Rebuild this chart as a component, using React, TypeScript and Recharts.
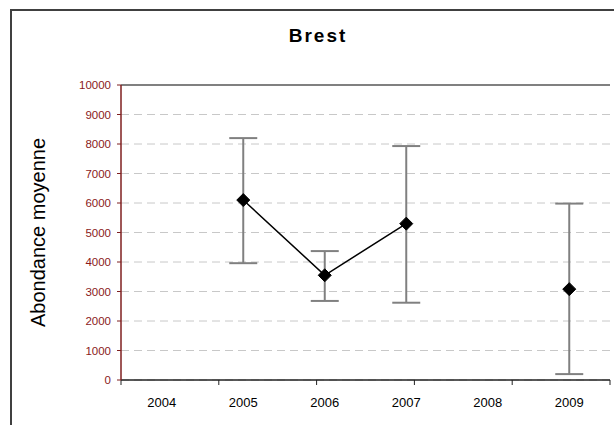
import React from 'react';
import { ComposedChart, Line, ErrorBar, XAxis, YAxis, CartesianGrid, ReferenceLine } from 'recharts';

// values (Brest, mean abundance with min/max bars)
const years = ['2004', '2005', '2006', '2007', '2008', '2009'];
const means: (number | null)[] = [null, 6100, 3550, 5300, null, 3080];
const lowerBounds: (number | null)[] = [null, 3960, 2680, 2620, null, 200];
const upperBounds: (number | null)[] = [null, 8200, 4370, 7930, null, 5980];
const yTicks = [0, 1000, 2000, 3000, 4000, 5000, 6000, 7000, 8000, 9000, 10000];
const edgeTicks = [0, 1, 2, 3, 4, 5, 6];

const chartData = years.map((year, i) => {
  const m = means[i];
  const lo = lowerBounds[i];
  const hi = upperBounds[i];
  return {
    year,
    mean: m,
    err: m != null && lo != null && hi != null ? [m - lo, hi - m] : null,
  };
});

const Diamond = (props: any) => {
  const { cx, cy, index } = props;
  if (cx == null || cy == null || isNaN(cy)) return <g key={`d-${index}`} />;
  const r = 6.5;
  return (
    <polygon
      key={`d-${index}`}
      points={`${cx},${cy - r} ${cx + r},${cy} ${cx},${cy + r} ${cx - r},${cy}`}
      fill="#000"
      stroke="#000"
    />
  );
};

const YLabel = (props: any) => {
  const { viewBox } = props;
  const x = viewBox.x - 23;
  const y = viewBox.y + viewBox.height / 2;
  return (
    <text
      x={x}
      y={y}
      transform={`rotate(-90, ${x}, ${y})`}
      textAnchor="middle"
      dominantBaseline="central"
      fontSize={20}
      fill="#000"
      fontFamily="'Liberation Sans', Arial, sans-serif"
    >
      Abondance moyenne
    </text>
  );
};

const App: React.FC = () => {
  return (
    <div style={{ position: 'absolute', left: 0, top: 0, width: 614, height: 425, overflow: 'hidden', background: '#fff' }}>
      <div style={{ position: 'absolute', left: 10, top: 9, width: 700, height: 500, border: '2px solid #404040' }} />
      <div
        style={{
          position: 'absolute',
          left: 0,
          width: 636,
          top: 25,
          textAlign: 'center',
          fontFamily: "'Liberation Sans', Arial, sans-serif",
          fontWeight: 'bold',
          fontSize: 19,
          letterSpacing: 2,
          color: '#000',
        }}
      >
        Brest
      </div>
      <div style={{ position: 'absolute', left: 0, top: 0 }}>
        <ComposedChart width={614} height={425} data={chartData} margin={{ top: 85, right: 4, left: 61, bottom: 14 }}>
          <CartesianGrid xAxisId="b" vertical={false} stroke="#c8c8c8" strokeDasharray="8 5" />
          <XAxis
            xAxisId="a"
            type="number"
            domain={[0, 6]}
            ticks={edgeTicks}
            height={1}
            interval={0}
            tickFormatter={() => ''}
            axisLine={{ stroke: '#222', strokeWidth: 1.5 }}
            tickLine={{ stroke: '#222', strokeWidth: 1 }}
            tickSize={5}
          />
          <XAxis
            xAxisId="b"
            dataKey="year"
            scale="band"
            height={30}
            axisLine={false}
            tickLine={false}
            tickMargin={11}
            tick={{ fill: '#000', fontSize: 13, fontFamily: "'Liberation Sans', Arial, sans-serif" }}
          />
          <YAxis
            domain={[0, 10000]}
            ticks={yTicks}
            width={60}
            interval={0}
            axisLine={{ stroke: '#7f1f1f', strokeWidth: 1.5 }}
            tickLine={{ stroke: '#7f1f1f' }}
            tickSize={4}
            tickMargin={6}
            tick={{ fill: '#8b1a1a', fontSize: 11.5, fontFamily: "'Liberation Sans', Arial, sans-serif" }}
            label={<YLabel />}
          />
          <YAxis
            yAxisId="right"
            orientation="right"
            domain={[0, 10000]}
            width={0}
            tick={false}
            tickLine={false}
            axisLine={{ stroke: '#808080', strokeWidth: 2 }}
          />
          <ReferenceLine xAxisId="b" y={10000} stroke="#808080" strokeWidth={2} />
          <Line
            xAxisId="b"
            dataKey="mean"
            stroke="#000"
            strokeWidth={1.5}
            connectNulls={false}
            dot={<Diamond />}
            activeDot={false}
            isAnimationActive={false}
          >
            <ErrorBar dataKey="err" direction="y" width={14} stroke="#808080" strokeWidth={2} />
          </Line>
        </ComposedChart>
      </div>
    </div>
  );
};

export default App;
